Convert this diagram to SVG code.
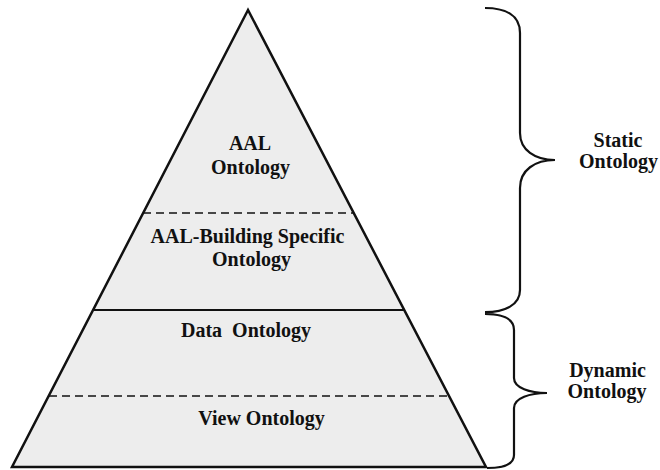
<svg xmlns="http://www.w3.org/2000/svg" width="660" height="470" viewBox="0 0 660 470">
<style>
.t{font-family:"Liberation Serif","Times New Roman",serif;font-weight:bold;font-size:20px;fill:#111;text-anchor:middle}
.dash{stroke:#111;stroke-width:1.6;stroke-dasharray:8 5;fill:none}
.solid{stroke:#111;stroke-width:2;fill:none}
.brace{stroke:#111;stroke-width:2.2;fill:none}
</style>
<rect width="660" height="470" fill="#fff"/>
<g id="pyramid">
<path d="M248,10 L12,467 L486,467 Z" fill="#ededed" stroke="#111" stroke-width="2.5" stroke-linejoin="miter"/>
</g>
<g id="dividers">
<line class="dash" x1="143" y1="213" x2="353" y2="213"/>
<line class="solid" x1="93" y1="310" x2="404" y2="310"/>
<line class="dash" x1="49" y1="396" x2="449" y2="396"/>
</g>
<g id="aal-ontology">
<text class="t" x="250" y="150">AAL</text>
<text class="t" x="250.5" y="174">Ontology</text>
</g>
<g id="aal-building-specific-ontology">
<text class="t" x="247.5" y="243">AAL-Building Specific</text>
<text class="t" x="251.5" y="266">Ontology</text>
</g>
<g id="data-ontology">
<text class="t" x="246" y="337" xml:space="preserve">Data  Ontology</text>
</g>
<g id="view-ontology">
<text class="t" x="261.5" y="425">View Ontology</text>
</g>
<g id="connectors">
<path class="brace" d="M485,8 C505,8 520,15 520,33 L520,133 C520,150 535,160 555,160 C535,160 520,170 520,188 L520,290 C520,305 505,312 485,312"/>
<path class="brace" d="M485,314 C505,314 514,320 514,330 L514,378 C514,388 530,393 547,393 C530,393 514,398 514,408 L514,455 C514,463 505,468 487,468"/>
</g>
<g id="static-ontology">
<text class="t" x="618" y="147">Static</text>
<text class="t" x="618.5" y="168">Ontology</text>
</g>
<g id="dynamic-ontology">
<text class="t" x="607.5" y="377">Dynamic</text>
<text class="t" x="607" y="398">Ontology</text>
</g>
</svg>
